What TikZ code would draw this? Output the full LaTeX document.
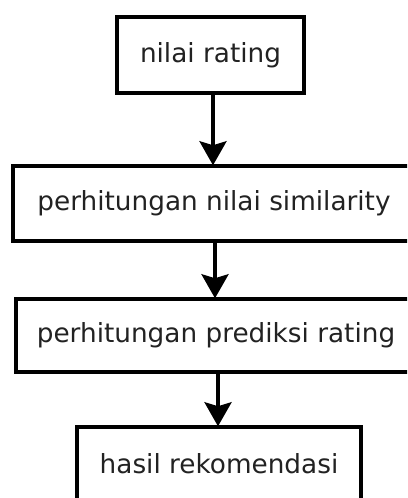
\documentclass[tikz,border=0pt]{standalone}
\usepackage{fontspec}
\setmainfont{DejaVu Sans}
\usetikzlibrary{arrows.meta}
\definecolor{txt}{HTML}{222222}
\tikzset{
  box/.style={draw=black, line width=3.5pt, rectangle, inner sep=0pt, text=txt,
    font=\fontsize{26.3}{31}\selectfont},
  flow/.style={line width=3.5pt, -{Stealth[length=24pt, width=27pt, inset=4pt]}, shorten >=-1pt}
}
\begin{document}
\begin{tikzpicture}[x=1pt,y=1pt]
\clip (0,0) rectangle (407,498);
\fill[white] (0,0) rectangle (407,498);
\node[box, minimum width=187pt, minimum height=76pt] (b1) at (210.5,443) {nilai rating};
\node[box, minimum width=402pt, minimum height=75pt] (b2) at (214,294.5) {perhitungan nilai similarity};
\node[box, minimum width=400pt, minimum height=73pt] (b3) at (216,162.5) {perhitungan prediksi rating};
\node[box, minimum width=284pt, minimum height=73pt] (b4) at (219,34.5) {hasil rekomendasi};
\coordinate (a1) at ([xshift=2.5pt]b1.south);
\coordinate (a2) at ([xshift=1pt]b2.south);
\coordinate (a3) at ([xshift=2pt]b3.south);
\draw[flow] (a1) -- (a1 |- b2.north);
\draw[flow] (a2) -- (a2 |- b3.north);
\draw[flow] (a3) -- (a3 |- b4.north);
\end{tikzpicture}
\end{document}
